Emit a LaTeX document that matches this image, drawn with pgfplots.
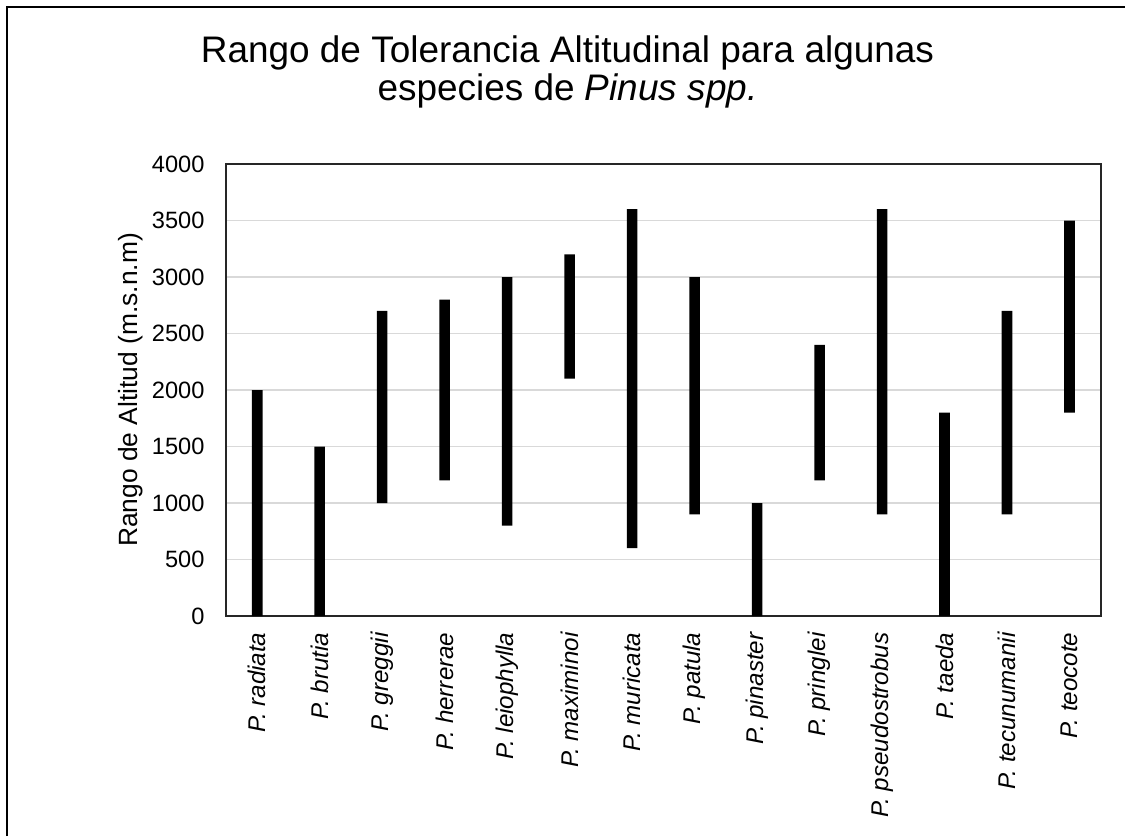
\documentclass[border=0pt]{standalone}
\usepackage{pgfplots}
\usepackage{pgfplotstable}
\pgfplotsset{compat=1.18}
\usepackage{fontspec}
\setmainfont{Liberation Sans}

\pgfplotstableread{
x lo len
0 0 2000
1 0 1500
2 1000 1700
3 1200 1600
4 800 2200
5 2100 1100
6 600 3000
7 900 2100
8 0 1000
9 1200 1200
10 900 2700
11 0 1800
12 900 1800
13 1800 1700
}\ranges

\begin{document}
\begin{tikzpicture}
\useasboundingbox (0,0) rectangle (405pt,-300.96pt);
\draw[line width=0.75pt, black] (2.52pt,-301pt) -- (2.52pt,-2.52pt) -- (405.5pt,-2.52pt);
\node[anchor=base, font=\fontsize{13.3}{13.7}\selectfont] at (204.3pt,-22.32pt) {Rango de Tolerancia Altitudinal para algunas};
\node[anchor=base, font=\fontsize{13.3}{13.7}\selectfont] at (204.3pt,-36pt) {especies de \textit{Pinus spp.}};
\node[rotate=90, anchor=center, font=\fontsize{9.5}{11}\selectfont] at (47.2pt,-140.4pt) {Rango de Altitud (m.s.n.m)};
\begin{axis}[
  at={(81.36pt,-221.76pt)}, anchor=south west,
  width=314.9pt, height=162.72pt, scale only axis,
  xmin=-0.5, xmax=13.5, ymin=0, ymax=4000,
  ytick={0,500,...,4000},
  xtick={0,...,13},
  xticklabels={P. radiata, P. brutia, P. greggii, P. herrerae, P. leiophylla, P. maximinoi, P. muricata, P. patula, P. pinaster, P. pringlei, P. pseudostrobus, P. taeda, P. tecunumanii, P. teocote},
  major tick length=0pt,
  tick style={draw=none},
  xticklabel shift=5.76pt,
  yticklabel shift=7.56pt,
  x tick label style={rotate=90, anchor=east, inner sep=0pt, font=\fontsize{8.7}{10}\selectfont\itshape},
  y tick label style={anchor=east, inner sep=0pt, font=\fontsize{8.5}{10}\selectfont},
  /pgf/number format/assume math mode=true,
  /pgf/number format/1000 sep={},
  ymajorgrids,
  grid style={draw=black!15, line width=0.55pt},
  axis line style={draw=black!85, line width=0.6pt},
  ybar stacked, bar width=3.8pt,
]
\addplot[draw=none, fill=none] table[x=x,y=lo]{\ranges};
\addplot[draw=none, fill=black] table[x=x,y=len]{\ranges};
\end{axis}
\end{tikzpicture}
\end{document}
